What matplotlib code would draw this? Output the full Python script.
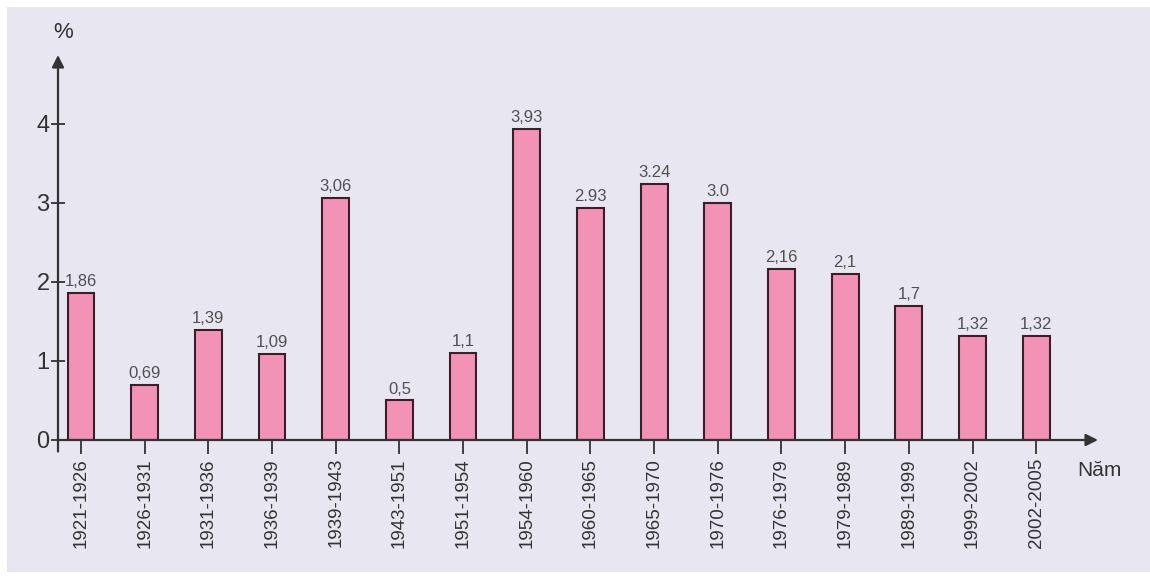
import matplotlib

matplotlib.use("Agg")

import matplotlib.pyplot as plt
from matplotlib.patches import Rectangle

periods = ["1921-1926", "1926-1931", "1931-1936", "1936-1939", "1939-1943",
           "1943-1951", "1951-1954", "1954-1960", "1960-1965", "1965-1970",
           "1970-1976", "1976-1979", "1979-1989", "1989-1999", "1999-2002",
           "2002-2005"]
growth = [1.86, 0.69, 1.39, 1.09, 3.06, 0.5, 1.1, 3.93, 2.93, 3.24, 3.0,
          2.16, 2.1, 1.7, 1.32, 1.32]
value_labels = ["1,86", "0,69", "1,39", "1,09", "3,06", "0,5", "1,1", "3,93",
                "2.93", "3.24", "3.0", "2,16", "2,1", "1,7", "1,32", "1,32"]
y_ticks = [0, 1, 2, 3, 4]

plt.rcParams["font.family"] = ["Liberation Sans", "DejaVu Sans"]

W, H = 1150, 579
fig = plt.figure(figsize=(W / 100, H / 100), dpi=100)
fig.patch.set_facecolor("white")
fig.patches.append(Rectangle((7 / W, 7 / H), 1 - 7 / W, 1 - 14 / H,
                             transform=fig.transFigure, facecolor="#e8e7f1",
                             edgecolor="none", zorder=-10))

ax = fig.add_axes([58 / W, 139 / H, (1098 - 58) / W, (440 - 55) / H])
ax.set_facecolor("none")

x = list(range(len(periods)))
ax.bar(x, growth, width=0.42, color="#f292b4", edgecolor="#3a1e2a",
       linewidth=1.5, zorder=3)
for xi, v, lab in zip(x, growth, value_labels):
    ax.text(xi, v + 0.05, lab, ha="center", va="bottom", fontsize=12,
            color="#505050")

ax.set_xlim(-0.361, 15.97)
ax.set_ylim(0, 4.87)
for s in ax.spines.values():
    s.set_visible(False)

ax.set_xticks(x)
ax.set_xticklabels(periods, rotation=90, fontsize=13.5, color="#333333")
ax.set_yticks(y_ticks)
ax.set_yticklabels([str(t) for t in y_ticks], fontsize=17, color="#333333")
ax.tick_params(axis="x", direction="out", length=10, width=1.3,
               color="#333333", pad=3)
ax.tick_params(axis="y", direction="inout", length=10, width=1.3,
               color="#333333", pad=1)

# axes drawn as arrows
arrow = dict(arrowstyle="-|>", color="#333333", lw=1.6,
             mutation_scale=18, shrinkA=0, shrinkB=0)
ax.annotate("", xy=(0, 1), xytext=(0, -0.03), xycoords="axes fraction",
            arrowprops=arrow, annotation_clip=False)
ax.annotate("", xy=(1, 0), xytext=(0, 0), xycoords="axes fraction",
            arrowprops=arrow, annotation_clip=False)

fig.text(63 / W, 1 - 32 / H, "%", ha="center", va="center", fontsize=16,
         color="#333333")
fig.text(1077 / W, 1 - 470 / H, "Năm", ha="left", va="center", fontsize=15,
         color="#333333")

fig.savefig("out.png", dpi=100)
plt.close(fig)
